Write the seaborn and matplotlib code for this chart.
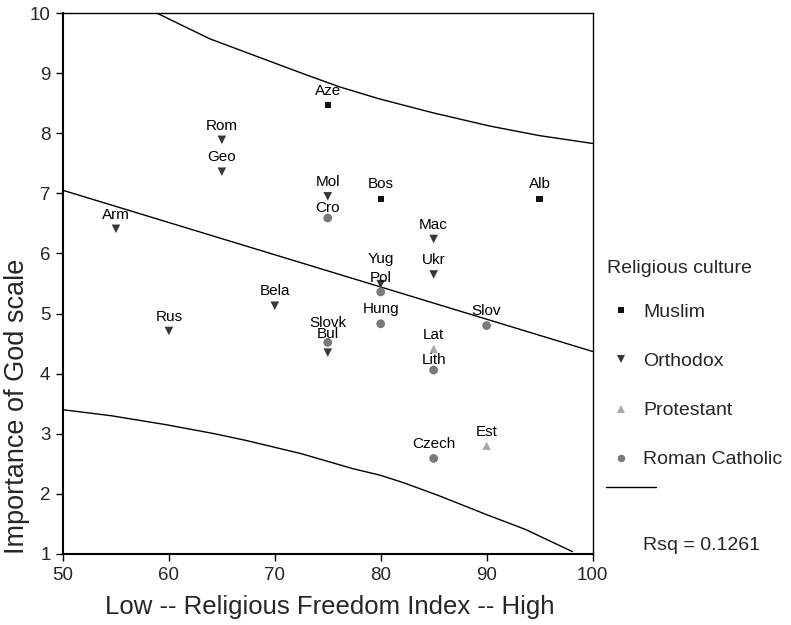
import numpy as np
import pandas as pd
import matplotlib
matplotlib.use('Agg')
import matplotlib.pyplot as plt
from matplotlib.lines import Line2D
import seaborn as sns

# countries, religious freedom index and importance of god score
countries = ['Aze', 'Bos', 'Alb',
             'Rom', 'Geo', 'Mol', 'Arm', 'Mac', 'Ukr', 'Yug', 'Bela', 'Rus', 'Bul',
             'Lat', 'Est',
             'Cro', 'Pol', 'Hung', 'Slov', 'Slovk', 'Lith', 'Czech']
freedom = [75, 80, 95,
           65, 65, 75, 55, 85, 85, 80, 70, 60, 75,
           85, 90,
           75, 80, 80, 90, 75, 85, 85]
god = [8.47, 6.91, 6.91,
       7.89, 7.36, 6.95, 6.41, 6.24, 5.65, 5.49, 5.13, 4.71, 4.35,
       4.41, 2.80,
       6.59, 5.36, 4.83, 4.80, 4.52, 4.06, 2.59]
culture = ['Muslim'] * 3 + ['Orthodox'] * 10 + ['Protestant'] * 2 + ['Roman Catholic'] * 7

# fit line and the two prediction bands
fit_x = [50, 100]
fit_y = [7.05, 4.37]
upper_x = [58.84, 63.87, 68.27, 72.99, 76.13, 79.9, 84.93, 90.28, 95.0, 100.0]
upper_y = [10.0, 9.57, 9.28, 8.97, 8.77, 8.57, 8.34, 8.12, 7.96, 7.83]
lower_x = [50, 54.56, 59.77, 64.33, 67.26, 72.48, 77.36, 79.97, 82.25, 85.5, 90.07, 93.65, 98.1]
lower_y = [3.40, 3.30, 3.15, 3.00, 2.89, 2.67, 2.42, 2.31, 2.18, 1.97, 1.65, 1.41, 1.04]
rsq = 0.1261

groups = ['Muslim', 'Orthodox', 'Protestant', 'Roman Catholic']
markers = {'Muslim': 's', 'Orthodox': 'v', 'Protestant': '^', 'Roman Catholic': 'o'}
colors = {'Muslim': '#111111', 'Orthodox': '#383838', 'Protestant': '#a8a8a8', 'Roman Catholic': '#7a7a7a'}
sizes = {'Muslim': 20, 'Orthodox': 38, 'Protestant': 38, 'Roman Catholic': 40}
# label lift above the marker, in points
lift = {'Yug': 15, 'Lith': 4.3, 'Cro': 4.3, 'Slovk': 10.8, 'Bul': 10.2}

df = pd.DataFrame({'country': countries, 'freedom': freedom, 'god': god, 'culture': culture})

sns.set_style('ticks')
plt.rcParams['font.family'] = ['Liberation Sans', 'DejaVu Sans']

fig = plt.figure(figsize=(7.91, 6.25), dpi=100)
ax = fig.add_axes([63 / 791, 1 - 554 / 625, 529.5 / 791, 541 / 625])

sns.lineplot(x=fit_x, y=fit_y, ax=ax, color='black', linewidth=1.0, estimator=None)
sns.lineplot(x=upper_x, y=upper_y, ax=ax, color='black', linewidth=1.0, estimator=None, sort=False)
sns.lineplot(x=lower_x, y=lower_y, ax=ax, color='black', linewidth=1.0, estimator=None, sort=False)

sns.scatterplot(data=df, x='freedom', y='god', hue='culture', style='culture', size='culture',
                hue_order=groups, style_order=groups, size_order=groups,
                palette=colors, markers=markers, sizes=sizes,
                linewidth=0, legend=False, ax=ax, zorder=3)

for c, x, y in zip(countries, freedom, god):
    ax.annotate(c, (x, y), xytext=(0, lift.get(c, 7.4)), textcoords='offset points',
                ha='center', va='baseline', fontsize=11, color='black')

ax.set_xlim(50, 100)
ax.set_ylim(1, 10)
ax.set_xticks(range(50, 101, 10))
ax.set_yticks(range(1, 11))
ax.tick_params(labelsize=13.5, length=5, width=1, pad=4, color='black')
for s in ax.spines.values():
    s.set_visible(True)
    s.set_color('black')
    s.set_linewidth(1.0)
ax.spines['left'].set_linewidth(1.5)
ax.spines['bottom'].set_linewidth(1.5)

ax.set_xlabel('Low -- Religious Freedom Index -- High', fontsize=18.5)
ax.xaxis.set_label_coords(0.503, -0.075)
ax.set_ylabel('Importance of God scale', fontsize=19.5, ha='left', va='bottom')
ax.yaxis.set_label_coords(-0.062, 0.0)

handles = [Line2D([], [], marker=markers[g], color=colors[g], linestyle='',
                  markersize=np.sqrt(sizes[g]) * 0.85, markeredgewidth=0) for g in groups]
leg = ax.legend(handles, groups, title='Religious culture', loc='upper left',
                bbox_to_anchor=(607 / 791, 1 - 260 / 625), bbox_transform=fig.transFigure,
                frameon=False, fontsize=14, title_fontsize=14, alignment='left',
                borderpad=0, borderaxespad=0, handlelength=1.45, handletextpad=0.4,
                labelspacing=1.62)
# tighter gap between the title and the first entry
leg._legend_box.sep = 1.62 * 14 - 3.6

fig.add_artist(Line2D([606 / 791, 656 / 791], [1 - 487 / 625] * 2, color='black', linewidth=1.0))
fig.text(643 / 791, 1 - 546 / 625, 'Rsq = %.4f' % rsq, fontsize=14, va='center', ha='left')

fig.savefig('out.png', dpi=100)
